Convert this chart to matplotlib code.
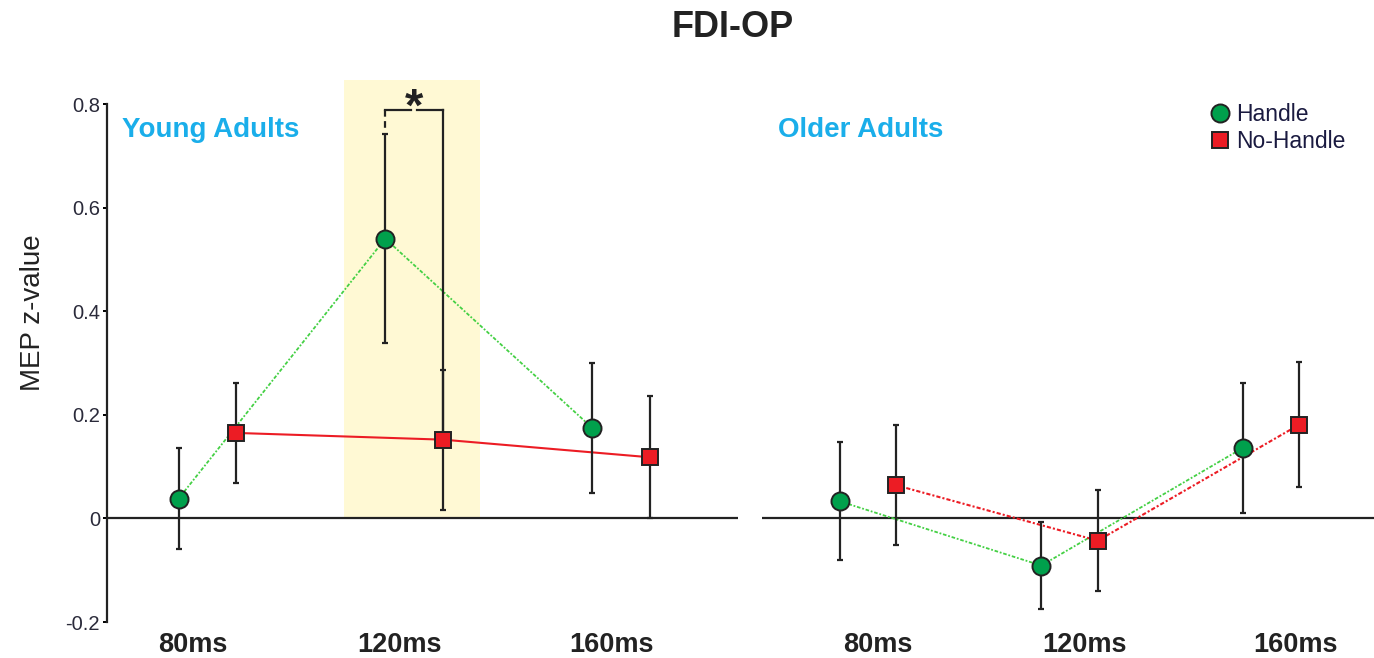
import matplotlib
matplotlib.use("Agg")
import matplotlib.pyplot as plt
from matplotlib.patches import Rectangle

plt.rcParams["font.family"] = ["Liberation Sans", "DejaVu Sans"]

# data
delays = ["80ms", "120ms", "160ms"]
groups = ["Young Adults", "Older Adults"]

young_handle = [0.038, 0.540, 0.175]
young_handle_err = [0.098, 0.202, 0.125]
young_nohandle = [0.165, 0.152, 0.118]
young_nohandle_err = [0.096, 0.135, 0.118]

older_handle = [0.033, -0.091, 0.136]
older_handle_err = [0.114, 0.084, 0.125]
older_nohandle = [0.064, -0.043, 0.181]
older_nohandle_err = [0.116, 0.098, 0.120]

sig_level = 0.788

GREEN_LINE = "#44d044"
GREEN_MARK = "#00a04c"
RED = "#ec1c24"
BLUE = "#1aaeea"
DARK = "#222222"

W, H = 1374, 658
fig = plt.figure(figsize=(W / 100, H / 100), dpi=100)

ax_l = fig.add_axes([107 / W, 36 / H, 631 / W, 518 / H])
ax_r = fig.add_axes([762 / W, 36 / H, 612 / W, 518 / H])

off = 0.14
x = [0, 1, 2]


def draw_panel(ax, handle, handle_err, nohandle, nohandle_err, red_style):
    xh = [v - off for v in x]
    xn = [v + off for v in x]
    ax.axhline(0, color=DARK, lw=1.6, zorder=2)
    ax.plot(xh, handle, color=GREEN_LINE, lw=1.3, ls=(0, (2, 1, 1, 1)), zorder=3)
    ax.plot(xn, nohandle, color=RED, lw=1.5, ls=red_style, zorder=3)
    ax.errorbar(xh, handle, yerr=handle_err, fmt="none", ecolor=DARK,
                elinewidth=1.6, capsize=2.5, capthick=1.6, zorder=4)
    ax.errorbar(xn, nohandle, yerr=nohandle_err, fmt="none", ecolor=DARK,
                elinewidth=1.6, capsize=2.5, capthick=1.6, zorder=4)
    ax.plot(xh, handle, ls="none", marker="o", ms=13, mfc=GREEN_MARK,
            mec=DARK, mew=1.4, zorder=5)
    ax.plot(xn, nohandle, ls="none", marker="s", ms=11, mfc=RED,
            mec=DARK, mew=1.4, zorder=5)
    ax.set_ylim(-0.2, 0.8)
    for side in ["top", "right", "bottom"]:
        ax.spines[side].set_visible(False)
    ax.patch.set_alpha(0)


draw_panel(ax_l, young_handle, young_handle_err, young_nohandle,
           young_nohandle_err, "-")
draw_panel(ax_r, older_handle, older_handle_err, older_nohandle,
           older_nohandle_err, (0, (2, 1, 1, 1)))

ax_l.set_xlim(-0.486, 2.566)
ax_r.set_xlim(-0.526, 2.511)

# left axis
ax_l.spines["left"].set_linewidth(1.6)
ax_l.spines["left"].set_color(DARK)
ax_l.set_yticks([-0.2, 0, 0.2, 0.4, 0.6, 0.8])
ax_l.set_yticklabels(["-0.2", "0", "0.2", "0.4", "0.6", "0.8"])
ax_l.tick_params(axis="y", direction="out", length=3, width=1.4,
                 labelsize=14.5, labelcolor="#2a2a3a", pad=2)
ax_r.spines["left"].set_visible(False)
ax_r.set_yticks([])

for ax, ticks in [(ax_l, [-0.07, 0.931, 1.952]), (ax_r, [0.05, 1.072, 2.119])]:
    ax.set_xticks(ticks)
    ax.set_xticklabels(delays, fontsize=19.5, fontweight="bold", color=DARK)
    ax.tick_params(axis="x", length=0, pad=7)

# highlight window and significance bracket
ax_l.add_patch(Rectangle((0.66, 0), 0.66, 0.847, facecolor="#fff9d4",
                         edgecolor="none", zorder=0, clip_on=False))
ax_l.plot([1 - off, 0.985], [sig_level, sig_level], color=DARK, lw=1.6,
          zorder=4, clip_on=False)
ax_l.plot([1.012, 1 + off], [sig_level, sig_level], color=DARK, lw=1.6,
          zorder=4, clip_on=False)
ax_l.plot([1 - off, 1 - off], [sig_level, 0.752], color=DARK, lw=1.6,
          ls=(0, (3, 2)), zorder=4)
ax_l.plot([1 + off, 1 + off], [sig_level, young_nohandle[1]], color=DARK,
          lw=1.6, zorder=4)
ax_l.text(1, 0.768, "*", ha="center", va="baseline", fontsize=34,
          fontweight="bold", color=DARK, clip_on=False)

fig.text(122 / W, 1 - 137 / H, groups[0], color=BLUE, fontsize=20,
         fontweight="bold", va="baseline", ha="left")
fig.text(778 / W, 1 - 137 / H, groups[1], color=BLUE, fontsize=20,
         fontweight="bold", va="baseline", ha="left")

fig.text(733 / W, 1 - 37 / H, "FDI-OP", fontsize=26, fontweight="bold",
         color=DARK, ha="center", va="baseline")
fig.text(33 / W, 1 - 313 / H, "MEP z-value", fontsize=20, color=DARK,
         rotation=90, ha="center", va="center")

# legend
ax_r.plot([], [], ls="none", marker="o", ms=13, mfc=GREEN_MARK, mec=DARK,
          mew=1.4, label="Handle")
ax_r.plot([], [], ls="none", marker="s", ms=11, mfc=RED, mec=DARK,
          mew=1.4, label="No-Handle")
handles, labels = ax_r.get_legend_handles_labels()
fig.legend(handles, labels, loc="center left",
           bbox_to_anchor=(1206 / W, 1 - 128 / H), frameon=False,
           fontsize=16.5, handletextpad=0.1, labelspacing=0.2,
           handlelength=1.2, borderaxespad=0, borderpad=0,
           labelcolor="#1a1a40")

fig.savefig("out.png", dpi=100)
